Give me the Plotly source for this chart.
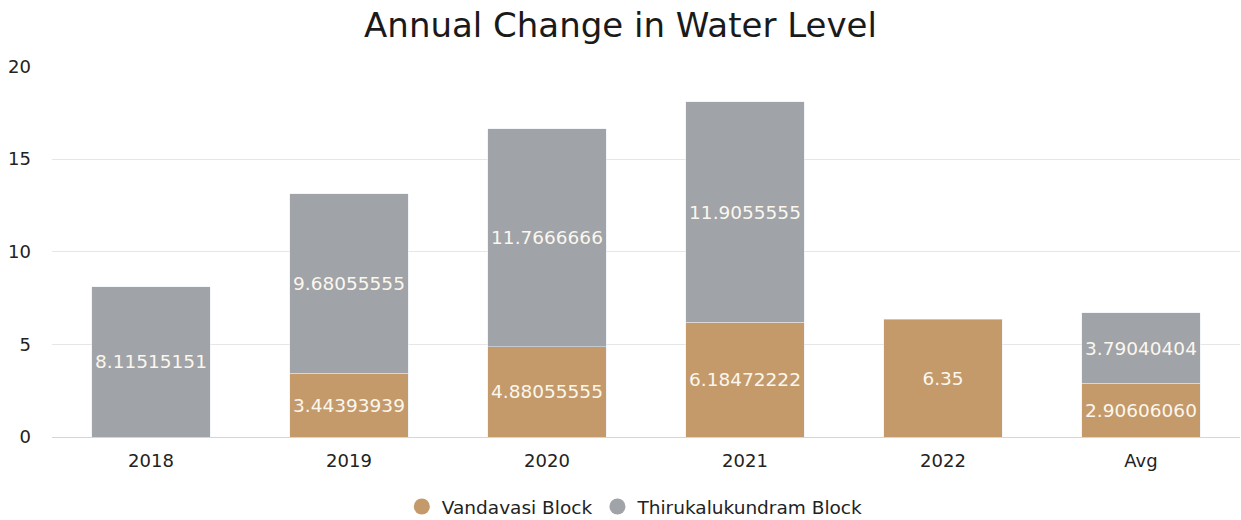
import plotly.graph_objects as go

# Categories and series values
years = ["2018", "2019", "2020", "2021", "2022", "Avg"]
vandavasi = [None, 3.443939394, 4.880555556, 6.184722222, 6.35, 2.906060606]
thirukalukundram = [8.115151515, 9.680555556, 11.76666667, 11.90555556, None, 3.790404040]
y_ticks = [0, 5, 10, 15, 20]

COL_V = "#C49A6B"
COL_T = "#A0A3A7"
FONT = "DejaVu Sans"
TXT = "#FBF7EE"


def label(v):
    # Long values are cut to fit inside the bar width
    if v is None:
        return ""
    s = repr(round(v, 12))
    return s[:10]


fig = go.Figure()
fig.add_trace(go.Bar(
    x=years, y=vandavasi, name="Vandavasi Block", marker_color=COL_V,
    text=[label(v) for v in vandavasi], textposition="inside",
    insidetextanchor="middle", constraintext="none",
    textfont=dict(color=TXT, size=18.5, family=FONT),
    showlegend=False,
))
fig.add_trace(go.Bar(
    x=years, y=thirukalukundram, name="Thirukalukundram Block", marker_color=COL_T,
    text=[label(v) for v in thirukalukundram], textposition="inside",
    insidetextanchor="middle", constraintext="none",
    textfont=dict(color=TXT, size=18.5, family=FONT),
    showlegend=False,
))
# Round legend markers
for name, col in [("Vandavasi Block", COL_V), ("Thirukalukundram Block", COL_T)]:
    fig.add_trace(go.Scatter(
        x=[None], y=[None], mode="markers", name=name,
        marker=dict(symbol="circle", size=17, color=col),
    ))

fig.update_layout(
    width=1241, height=520,
    barmode="stack", bargap=0.4,
    paper_bgcolor="white", plot_bgcolor="white",
    margin=dict(l=52, r=1, t=66, b=83, autoexpand=False),
    font=dict(family=FONT, color="#333333", size=18),
    title=dict(text="Annual Change in Water Level", x=0.5, xanchor="center",
               y=0.952, yanchor="middle",
               font=dict(size=34, color="#1a1a1a", family=FONT)),
    legend=dict(orientation="h", x=0.491, xanchor="center",
                yref="container", y=0.025, yanchor="middle",
                font=dict(size=18.5, color="#222222", family=FONT),
                itemwidth=30, traceorder="normal"),
    xaxis=dict(showgrid=False, showline=True, linecolor="#ccd6eb", linewidth=1,
               ticks="", tickfont=dict(size=18, color="#222222"), ticklabelstandoff=7),
    yaxis=dict(range=[0, 20.02], tickvals=y_ticks, showgrid=True, gridcolor="#e6e6e6",
               zeroline=False, ticks="", tickfont=dict(size=18, color="#222222"),
               ticklabelstandoff=20),
)

fig.write_html("out.html")
